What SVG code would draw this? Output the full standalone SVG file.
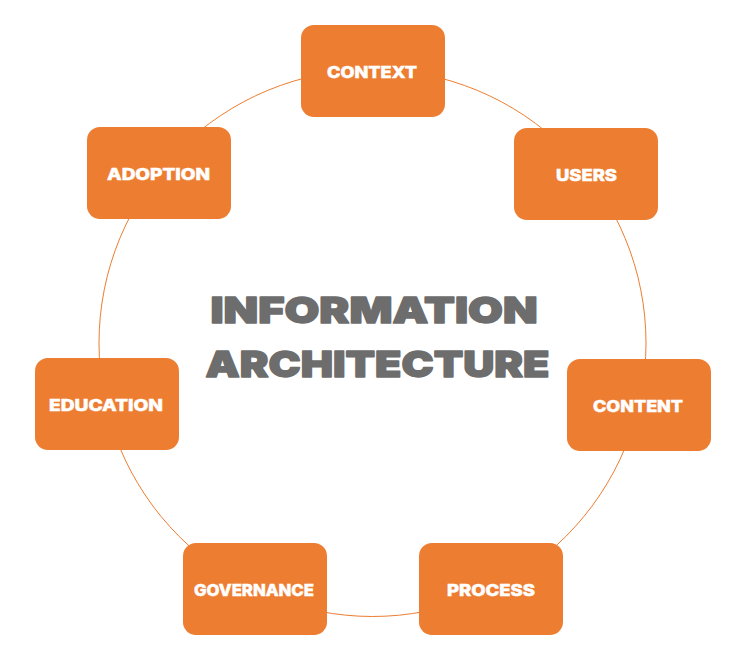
<svg xmlns="http://www.w3.org/2000/svg" width="746" height="669" viewBox="0 0 746 669">
<style>
.box{fill:#ED7D31;}
.lbl{fill:#ffffff;stroke:#ffffff;stroke-width:0.5;font-family:Inter,"Open Sans","DejaVu Sans",sans-serif;font-weight:800;font-size:16px;text-anchor:middle;}
.title{fill:#6D6D6D;stroke:#6D6D6D;stroke-width:1.4;stroke-linejoin:round;font-family:Inter,"Open Sans","DejaVu Sans",sans-serif;font-weight:900;font-size:36px;text-anchor:middle;}
.ring{fill:none;stroke:#ED7D31;stroke-width:1;}
</style>
<rect width="746" height="669" fill="#ffffff"/>
<g id="connectors">
<circle class="ring" cx="372.5" cy="343" r="273.5"/>
</g>
<g id="title">
<text class="title" x="374" y="323" textLength="327" lengthAdjust="spacingAndGlyphs">INFORMATION</text>
<text class="title" x="377.5" y="377" textLength="344" lengthAdjust="spacingAndGlyphs">ARCHITECTURE</text>
</g>
<g id="context"><rect class="box" x="301" y="25" width="144" height="92" rx="13"/><text class="lbl" x="372" y="78" textLength="90" lengthAdjust="spacingAndGlyphs">CONTEXT</text></g>
<g id="users"><rect class="box" x="514" y="128" width="144" height="92" rx="13"/><text class="lbl" x="586.5" y="181" textLength="61" lengthAdjust="spacingAndGlyphs">USERS</text></g>
<g id="content"><rect class="box" x="567" y="359" width="144" height="92" rx="13"/><text class="lbl" x="638" y="412" textLength="90" lengthAdjust="spacingAndGlyphs">CONTENT</text></g>
<g id="process"><rect class="box" x="419" y="543" width="144" height="92" rx="13"/><text class="lbl" x="491" y="596" textLength="88" lengthAdjust="spacingAndGlyphs">PROCESS</text></g>
<g id="governance"><rect class="box" x="183" y="543" width="144" height="92" rx="13"/><text class="lbl" x="254" y="596" textLength="120" lengthAdjust="spacingAndGlyphs">GOVERNANCE</text></g>
<g id="education"><rect class="box" x="35" y="358" width="144" height="92" rx="13"/><text class="lbl" x="106" y="411" textLength="114" lengthAdjust="spacingAndGlyphs">EDUCATION</text></g>
<g id="adoption"><rect class="box" x="87" y="127" width="144" height="92" rx="13"/><text class="lbl" x="158.5" y="180" textLength="103" lengthAdjust="spacingAndGlyphs">ADOPTION</text></g>
</svg>
